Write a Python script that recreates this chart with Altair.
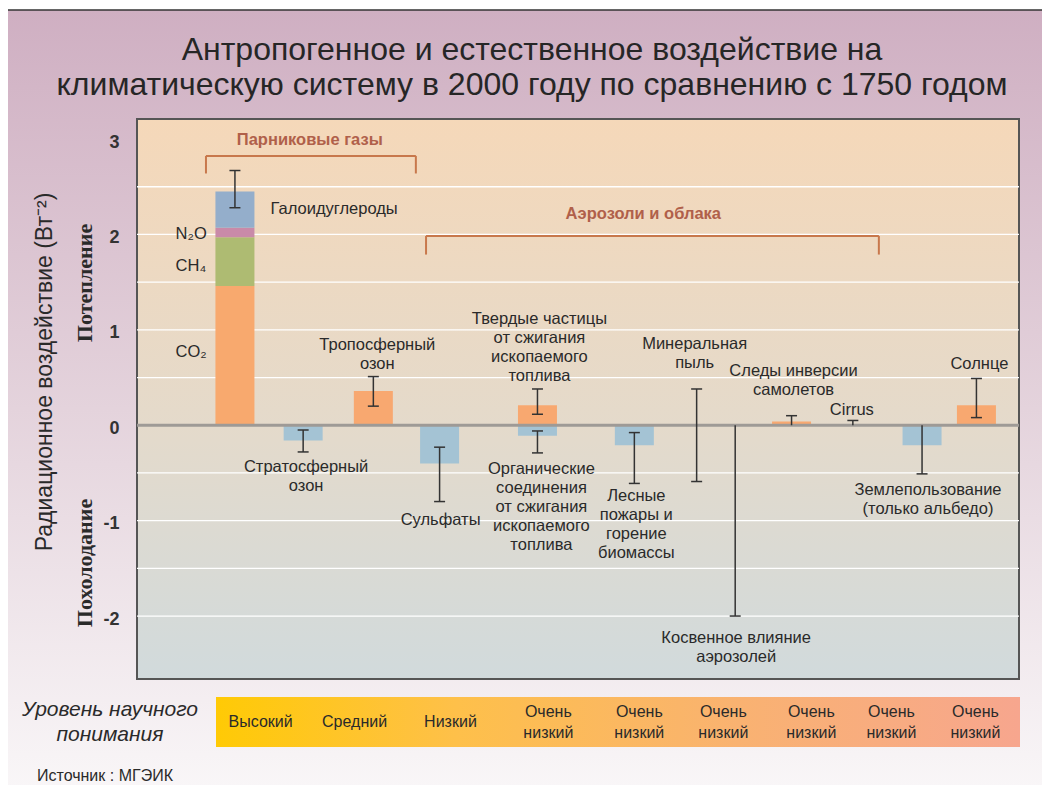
import altair as alt
import pandas as pd

W, H = 882, 560
FONT = "Liberation Sans, Arial, sans-serif"
NARROW = "Liberation Sans Narrow, Arial Narrow, Liberation Sans, sans-serif"
SERIF = "Liberation Serif, Times New Roman, serif"
TXT = "#2a2a2a"

# ---------------- data (W m^-2) ----------------
ghg_names = ["CO₂", "CH₄", "N₂O", "Галоидуглероды"]
ghg_bottom = [0.0, 1.46, 1.97, 2.07]
ghg_top = [1.46, 1.97, 2.07, 2.45]
ghg_colors = ["#F8A96E", "#AEBB72", "#C98AA9", "#94AECB"]
ghg_pos = 94

bar_names = ["Стратосферный озон", "Тропосферный озон", "Сульфаты",
             "Твердые частицы", "Органические соединения", "Лесные пожары",
             "Следы инверсии", "Землепользование", "Солнце"]
bar_values = [-0.16, 0.36, -0.40, 0.21, -0.11, -0.21, 0.04, -0.21, 0.21]
bar_pos = [163, 234, 301, 400, 400, 498, 657, 789, 844]

err_pos = [94, 163, 234, 301, 400, 400, 498, 561, 600, 657, 719, 789, 844]
err_lo = [2.28, -0.28, 0.20, -0.80, 0.115, -0.29, -0.61, -0.59, -2.0, 0.0, 0.0, -0.51, 0.08]
err_hi = [2.67, -0.05, 0.51, -0.23, 0.38, -0.06, -0.077, 0.38, 0.0, 0.10, 0.05, 0.0, 0.49]

grid_values = [-2, -1.5, -1, -0.5, 0.5, 1, 1.5, 2, 2.5]
tick_values = [-2, -1, 0, 1, 2, 3]

# brackets: (x, x2, y, y2)
brackets = [
    (64.7, 277, 2.823, 2.823), (64.7, 64.7, 2.823, 2.639), (277, 277, 2.823, 2.639),
    (287.3, 745.3, 1.984, 1.984), (287.3, 287.3, 1.984, 1.789), (745.3, 745.3, 1.984, 1.789),
]
bracket_titles = ["Парниковые газы", "Аэрозоли и облака"]
bracket_title_pos = [169.7, 507]
bracket_title_y = [2.987, 2.21]

labels_left = ["Галоидуглероды", "N₂O", "CH₄", "CO₂"]
labels_left_pos = [130, 34, 34, 34]
labels_left_y = [2.264, 2.00, 1.667, 0.765]

labels_c = ["Тропосферный\nозон", "Стратосферный\nозон", "Сульфаты",
            "Твердые частицы\nот сжигания\nископаемого\nтоплива",
            "Органические\nсоединения\nот сжигания\nископаемого\nтоплива",
            "Лесные\nпожары и\nгорение\nбиомассы", "Минеральная\nпыль",
            "Следы инверсии\nсамолетов", "Cirrus", "Косвенное влияние\nаэрозолей",
            "Землепользование\n(только альбедо)", "Солнце"]
labels_c_pos = [238, 166, 302, 402, 404, 500, 559, 659, 718, 601, 795, 847]
labels_c_y = [0.839, -0.440, -0.996, 1.111, -0.461, -0.744, 0.849, 0.566, 0.157, -2.233, -0.681, 0.639]

conf_single = ["Высокий", "Средний", "Низкий"]
conf_single_pos = [120, 215, 312]
conf_double = ["Очень\nнизкий"] * 6
conf_double_pos = [411, 503, 588, 677, 758, 843]

# ---------------- scales ----------------
yscale = alt.Scale(domain=[-2.66, 3.21], nice=False, zero=False)
xscale = alt.Scale(domain=[0, W], nice=False, zero=False)
yaxis = alt.Axis(values=tick_values, labelFont=FONT, labelFontSize=18, labelFontWeight="bold",
                 labelColor="#333333", domain=False, ticks=False, grid=False, labelPadding=18,
                 labelOffset=3, labelExpr="'' + datum.value", title=None, zindex=2)


def X(f):
    return alt.X(f, type="quantitative", scale=xscale, axis=None)


def Y(f):
    return alt.Y(f, type="quantitative", scale=yscale, axis=yaxis)


one = pd.DataFrame({"a": [0]})

outer_bg = alt.Chart(one).mark_rect(
    color=alt.Gradient(gradient="linear", x1=0, x2=0, y1=0, y2=1,
                       stops=[alt.GradientStop(offset=0, color="#CFAFC2"),
                              alt.GradientStop(offset=0.5, color="#E4D3DC"),
                              alt.GradientStop(offset=1, color="#FAF8F9")])
).encode(x=alt.value(-130), x2=alt.value(930), y=alt.value(-109), y2=alt.value(690))

outer_border = alt.Chart(one).mark_rule(color="#333333", strokeWidth=1.5).encode(
    x=alt.value(-130), x2=alt.value(930), y=alt.value(-109))
outer_border2 = alt.Chart(one).mark_rule(color="#333333", strokeWidth=1.5).encode(
    x=alt.value(-130), y=alt.value(-109), y2=alt.value(690))

plot_bg = alt.Chart(one).mark_rect(
    color=alt.Gradient(gradient="linear", x1=0, x2=0, y1=0, y2=1,
                       stops=[alt.GradientStop(offset=0, color="#F5D8B9"),
                              alt.GradientStop(offset=0.55, color="#E4DACB"),
                              alt.GradientStop(offset=1, color="#D1DADC")]),
    stroke="#555555", strokeWidth=2
).encode(x=alt.value(0), x2=alt.value(W), y=alt.value(0), y2=alt.value(H))

grid = alt.Chart(pd.DataFrame({"g": grid_values})).mark_rule(color="white", strokeWidth=1.3).encode(
    y=Y("g"), x=alt.value(0), x2=alt.value(W))

ghg_df = pd.DataFrame({"name": ghg_names, "b": ghg_bottom, "t": ghg_top,
                       "c": ghg_colors, "pos": [ghg_pos] * 4})
ghg = alt.Chart(ghg_df).mark_bar(size=39, orient="vertical").encode(
    x=X("pos"), y=Y("b"), y2="t", color=alt.Color("c:N", scale=None))

bar_df = pd.DataFrame({"name": bar_names, "v": bar_values, "pos": bar_pos})
bar_df["c"] = ["#F8A870" if v > 0 else "#A4C3D4" for v in bar_values]
bar_df["z"] = 0.0
bars = alt.Chart(bar_df).mark_bar(size=39, orient="vertical").encode(
    x=X("pos"), y=Y("z"), y2="v", color=alt.Color("c:N", scale=None))

zero = alt.Chart(pd.DataFrame({"z": [0.0]})).mark_rule(color="#9E9A96", strokeWidth=3).encode(
    y=Y("z"), x=alt.value(0), x2=alt.value(W))

err_df = pd.DataFrame({"pos": err_pos, "lo": err_lo, "hi": err_hi})
errs = alt.Chart(err_df).mark_rule(color="#333333", strokeWidth=1.5).encode(
    x=X("pos"), y=Y("lo"), y2="hi")

caps = []
for p, lo, hi in zip(err_pos, err_lo, err_hi):
    if lo != 0:
        caps.append({"pos": p, "v": lo})
    if hi != 0:
        caps.append({"pos": p, "v": hi})
caps_ch = alt.Chart(pd.DataFrame(caps)).mark_tick(
    orient="horizontal", size=11, thickness=1.5, color="#333333", opacity=1).encode(
    x=X("pos"), y=Y("v"))

br_df = pd.DataFrame(brackets, columns=["x", "x2", "y", "y2"])
br = alt.Chart(br_df).mark_rule(color="#C8784C", strokeWidth=2).encode(
    x=X("x"), x2="x2", y=Y("y"), y2="y2")

brt = alt.Chart(pd.DataFrame({"t": bracket_titles, "pos": bracket_title_pos, "y": bracket_title_y})).mark_text(
    font=FONT, fontSize=16.5, fontWeight="bold", color="#B0604A", baseline="middle").encode(
    x=X("pos"), y=Y("y"), text="t:N")

tl = alt.Chart(pd.DataFrame({"t": labels_left, "pos": labels_left_pos, "y": labels_left_y})).mark_text(
    font=FONT, fontSize=16.5, color=TXT, align="left", baseline="middle").encode(
    x=X("pos"), y=Y("y"), text="t:N")

tc = alt.Chart(pd.DataFrame({"t": labels_c, "pos": labels_c_pos, "y": labels_c_y})).mark_text(
    font=FONT, fontSize=16.5, color=TXT, align="center", baseline="middle", lineBreak="\n",
    lineHeight=19).encode(
    x=X("pos"), y=Y("y"), text="t:N")

band = alt.Chart(one).mark_rect(
    color=alt.Gradient(gradient="linear", x1=0, x2=1, y1=0, y2=0,
                       stops=[alt.GradientStop(offset=0, color="#FFCA05"),
                              alt.GradientStop(offset=0.3, color="#FEC04A"),
                              alt.GradientStop(offset=0.65, color="#F9B271"),
                              alt.GradientStop(offset=1, color="#F7A68E")])
).encode(x=alt.value(79), x2=alt.value(883), y=alt.value(578), y2=alt.value(628))

band_txt1 = alt.Chart(pd.DataFrame({"t": conf_single, "pos": conf_single_pos})).mark_text(
    font=NARROW, fontSize=16, color=TXT, align="center", baseline="middle").encode(
    x=X("pos"), y=alt.value(603), text="t:N")

band_txt2 = alt.Chart(pd.DataFrame({"t": conf_double, "pos": conf_double_pos})).mark_text(
    font=NARROW, fontSize=16, color=TXT, align="center", baseline="middle", lineBreak="\n",
    lineHeight=21).encode(x=X("pos"), y=alt.value(593), text="t:N")

band_title = alt.Chart(one).mark_text(
    text="Уровень научного\nпонимания", lineBreak="\n", lineHeight=25, font=NARROW, fontSize=21,
    fontStyle="italic", color=TXT, align="center", baseline="middle").encode(
    x=alt.value(-27), y=alt.value(591))

source = alt.Chart(one).mark_text(
    text="Источник : МГЭИК", font=NARROW, fontSize=16, color=TXT, align="left",
    baseline="middle").encode(x=alt.value(-100), y=alt.value(657))

title = alt.Chart(one).mark_text(
    text="Антропогенное и естественное воздействие на\nклиматическую систему в 2000 году по сравнению с 1750 годом",
    lineBreak="\n", lineHeight=35, font=FONT, fontSize=32, color="#262626", align="center",
    baseline="middle").encode(x=alt.value(395), y=alt.value(-69))

ytitle = alt.Chart(one).mark_text(
    text="Радиационное воздействие (Вт⁻²)", font=FONT, fontSize=23, color=TXT, angle=270,
    align="center", baseline="middle").encode(x=alt.value(-92), y=alt.value(253))

warm = alt.Chart(one).mark_text(
    text="Потепление", font=SERIF, fontSize=22, fontWeight="bold", color=TXT, angle=270,
    align="center", baseline="middle").encode(x=alt.value(-52), y=alt.value(164))

cool = alt.Chart(one).mark_text(
    text="Похолодание", font=SERIF, fontSize=22, fontWeight="bold", color=TXT, angle=270,
    align="center", baseline="middle").encode(x=alt.value(-52), y=alt.value(444))

chart = alt.layer(
    outer_bg, outer_border, outer_border2, plot_bg, grid, ghg, bars, zero, errs, caps_ch,
    br, brt, tl, tc, band, band_txt1, band_txt2, band_title, source, title, ytitle, warm, cool
).properties(
    width=W, height=H,
    autosize=alt.AutoSizeParams(type="none"),
    padding={"left": 129, "top": 111, "right": 23, "bottom": 106},
    background="white",
).configure_view(stroke=None)

chart.save("out.html", embed_options={"renderer": "svg", "actions": False})
